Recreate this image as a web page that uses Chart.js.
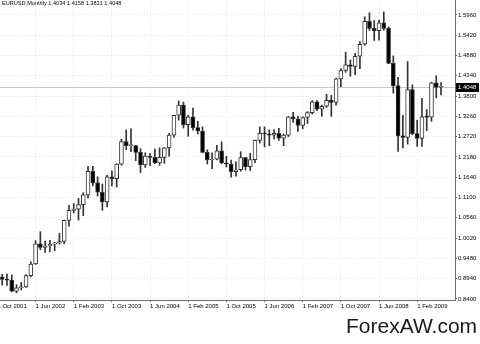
<!DOCTYPE html>
<html>
<head>
<meta charset="utf-8">
<script src="https://cdn.jsdelivr.net/npm/chart.js@4.4.0/dist/chart.umd.min.js"></script>
<style>
html,body{margin:0;padding:0;background:#fff;}
#wrap{position:relative;width:480px;height:344px;overflow:hidden;}
canvas{position:absolute;left:0;top:0;}
#hdr{position:absolute;left:2px;top:0;font:5.6px "Liberation Sans",Arial,sans-serif;line-height:7px;color:#000;white-space:nowrap;}
#wm{position:absolute;left:346px;top:313px;font:21px "Liberation Sans",Arial,sans-serif;line-height:25px;color:#1a1a1a;white-space:nowrap;}
</style>
</head>
<body>
<div id="wrap">
<canvas id="c" width="480" height="344"></canvas>
<div id="hdr">EURUSD,Monthly 1.4034 1.4158 1.3831 1.4048</div>
<div id="wm">ForexAW.com</div>
</div>
<script>
// ---- data (monthly EURUSD candles, Nov 2001 .. Jul 2009) ----
const months = [
 'Nov 2001','Dec 2001',
 'Jan 2002','Feb 2002','Mar 2002','Apr 2002','May 2002','Jun 2002','Jul 2002','Aug 2002','Sep 2002','Oct 2002','Nov 2002','Dec 2002',
 'Jan 2003','Feb 2003','Mar 2003','Apr 2003','May 2003','Jun 2003','Jul 2003','Aug 2003','Sep 2003','Oct 2003','Nov 2003','Dec 2003',
 'Jan 2004','Feb 2004','Mar 2004','Apr 2004','May 2004','Jun 2004','Jul 2004','Aug 2004','Sep 2004','Oct 2004','Nov 2004','Dec 2004',
 'Jan 2005','Feb 2005','Mar 2005','Apr 2005','May 2005','Jun 2005','Jul 2005','Aug 2005','Sep 2005','Oct 2005','Nov 2005','Dec 2005',
 'Jan 2006','Feb 2006','Mar 2006','Apr 2006','May 2006','Jun 2006','Jul 2006','Aug 2006','Sep 2006','Oct 2006','Nov 2006','Dec 2006',
 'Jan 2007','Feb 2007','Mar 2007','Apr 2007','May 2007','Jun 2007','Jul 2007','Aug 2007','Sep 2007','Oct 2007','Nov 2007','Dec 2007',
 'Jan 2008','Feb 2008','Mar 2008','Apr 2008','May 2008','Jun 2008','Jul 2008','Aug 2008','Sep 2008','Oct 2008','Nov 2008','Dec 2008',
 'Jan 2009','Feb 2009','Mar 2009','Apr 2009','May 2009','Jun 2009','Jul 2009'
];
const openP = [
 0.8985,0.8920,
 0.8900,0.8610,0.8700,0.8720,0.9020,0.9330,0.9870,0.9770,0.9810,0.9860,0.9890,0.9930,
 1.0490,1.0760,1.0790,1.0910,1.1170,1.1800,1.1490,1.1240,1.0980,1.1650,1.1600,1.1990,
 1.2590,1.2480,1.2480,1.2300,1.1970,1.2200,1.2170,1.2020,1.2170,1.2420,1.2760,1.3290,
 1.3560,1.3040,1.3250,1.2960,1.2870,1.2300,1.2100,1.2120,1.2340,1.2020,1.1990,1.1790,
 1.1840,1.2160,1.1920,1.2110,1.2620,1.2810,1.2790,1.2760,1.2810,1.2680,1.2760,1.3250,
 1.3190,1.3020,1.3230,1.3360,1.3650,1.3450,1.3530,1.3690,1.3630,1.4260,1.4480,1.4630,
 1.4590,1.4860,1.5180,1.5790,1.5600,1.5540,1.5750,1.5600,1.4670,1.4080,1.2740,1.2700,
 1.3970,1.2800,1.2670,1.3250,1.3240,1.4150,1.4034
];
const highP = [
 0.9058,0.9060,
 0.9040,0.8780,0.8840,0.9050,0.9390,0.9950,1.0190,0.9940,0.9960,0.9910,1.0150,1.0500,
 1.0890,1.0940,1.1080,1.1230,1.1930,1.1930,1.1650,1.1460,1.1690,1.1810,1.2000,1.2650,
 1.2900,1.2930,1.2490,1.2400,1.2290,1.2270,1.2390,1.2420,1.2430,1.2810,1.3290,1.3670,
 1.3640,1.3290,1.3480,1.3130,1.2980,1.2370,1.2290,1.2490,1.2580,1.2200,1.2100,1.2050,
 1.2320,1.2170,1.2280,1.2630,1.2980,1.2980,1.2900,1.2910,1.2940,1.2790,1.3260,1.3370,
 1.3270,1.3250,1.3390,1.3680,1.3680,1.3560,1.3850,1.3820,1.4280,1.4530,1.4970,1.4760,
 1.4940,1.5250,1.5910,1.6020,1.5810,1.5820,1.6040,1.5640,1.4870,1.4300,1.3290,1.4720,
 1.4100,1.3160,1.3740,1.3440,1.4170,1.4340,1.4158
];
const lowP = [
 0.8771,0.8760,
 0.8590,0.8565,0.8640,0.8710,0.8990,0.9320,0.9710,0.9640,0.9660,0.9690,0.9860,0.9870,
 1.0340,1.0690,1.0500,1.0620,1.1080,1.1410,1.1140,1.0760,1.0850,1.1410,1.1380,1.1960,
 1.2370,1.2320,1.2080,1.1760,1.1900,1.1950,1.2000,1.1960,1.2010,1.2200,1.2700,1.3160,
 1.2950,1.2730,1.2890,1.2790,1.2290,1.1990,1.1870,1.2100,1.2000,1.1910,1.1640,1.1670,
 1.1800,1.1830,1.1820,1.2030,1.2550,1.2450,1.2480,1.2660,1.2620,1.2480,1.2720,1.3100,
 1.2860,1.2930,1.3070,1.3320,1.3410,1.3260,1.3500,1.3260,1.3560,1.4050,1.4430,1.4330,
 1.4370,1.4530,1.5150,1.5550,1.5280,1.5290,1.5550,1.4660,1.3880,1.2330,1.2420,1.2520,
 1.2770,1.2460,1.2460,1.2880,1.3130,1.3750,1.3831
];
const closeP = [
 0.8920,0.8900,
 0.8610,0.8700,0.8720,0.9020,0.9330,0.9870,0.9770,0.9810,0.9860,0.9890,0.9930,1.0490,
 1.0760,1.0790,1.0910,1.1170,1.1800,1.1490,1.1240,1.0980,1.1650,1.1600,1.1990,1.2590,
 1.2480,1.2480,1.2300,1.1970,1.2200,1.2170,1.2020,1.2170,1.2420,1.2760,1.3290,1.3560,
 1.3040,1.3250,1.2960,1.2870,1.2300,1.2100,1.2120,1.2340,1.2020,1.1990,1.1790,1.1840,
 1.2160,1.1920,1.2110,1.2620,1.2810,1.2790,1.2760,1.2810,1.2680,1.2760,1.3250,1.3190,
 1.3020,1.3230,1.3360,1.3650,1.3450,1.3530,1.3690,1.3630,1.4260,1.4480,1.4630,1.4590,
 1.4860,1.5180,1.5790,1.5600,1.5540,1.5750,1.5600,1.4670,1.4080,1.2740,1.2700,1.3970,
 1.2800,1.2670,1.3250,1.3240,1.4150,1.4030,1.4048
];
// time-axis labels (bar index relative to Nov 2001 = 0)
const xTickLabels = ['1 Oct 2001','1 Jun 2002','1 Feb 2003','1 Oct 2003','1 Jun 2004','1 Feb 2005',
                     '1 Oct 2005','1 Jun 2006','1 Feb 2007','1 Oct 2007','1 Jun 2008','1 Feb 2009'];
const xTickIndex  = [-1,7,15,23,31,39,47,55,63,71,79,87];
// price-axis labels
const yTicks = [0.8400,0.8940,0.9480,1.0020,1.0560,1.1100,1.1640,1.2180,1.2720,1.3260,1.3800,1.4340,1.4880,1.5420,1.5960];
const lastPrice = 1.4048;

// ---- chart ----
const wickData = months.map((m,i)=>({x:i, y:[lowP[i], highP[i]]}));
const bodyData = months.map((m,i)=>({x:i, y:[Math.min(openP[i],closeP[i]), Math.max(openP[i],closeP[i])]}));
const bodyFill = months.map((m,i)=> closeP[i] >= openP[i] ? '#ffffff' : '#000000');

const bidPlugin = {
  id:'bid',
  beforeDatasetsDraw(chart){
    const {ctx, chartArea:a, scales:{y}} = chart;
    const py = Math.round(y.getPixelForValue(lastPrice)) + 0.5;
    ctx.save();
    ctx.strokeStyle = '#c8c8c8'; ctx.lineWidth = 1;
    ctx.beginPath(); ctx.moveTo(a.left, py); ctx.lineTo(a.right, py); ctx.stroke();
    ctx.restore();
  },
  afterDraw(chart){
    const {ctx, chartArea:a, scales:{y}} = chart;
    const py = Math.round(y.getPixelForValue(lastPrice));
    ctx.save();
    ctx.fillStyle = '#000';
    ctx.fillRect(a.right + 1, py - 4, 23, 9);
    ctx.fillStyle = '#fff';
    ctx.font = '6px "Liberation Sans", Arial, sans-serif';
    ctx.textBaseline = 'middle';
    ctx.fillText(lastPrice.toFixed(4), a.right + 3, py + 0.5);
    ctx.restore();
  }
};

new Chart(document.getElementById('c'), {
  type:'bar',
  data:{
    datasets:[
      { label:'body', data: bodyData, backgroundColor: bodyFill, borderColor:'#333333',
        borderWidth:1, borderSkipped:false, barThickness:4, minBarLength:1, grouped:false },
      { label:'wick', data: wickData, backgroundColor:'#333333', borderWidth:0,
        barThickness:1, grouped:false }
    ]
  },
  options:{
    responsive:false, animation:false,
    layout:{padding:0},
    plugins:{legend:{display:false}, tooltip:{enabled:false}},
    scales:{
      x:{
        type:'linear', min:-0.46, max:94.93, offset:false,
        afterFit(s){ s.height = 44; s.paddingLeft = 0; s.paddingRight = 0; },
        afterBuildTicks(s){ s.ticks = xTickIndex.map(v=>({value:v})); },
        grid:{ offset:false, color:'#e6e6e6', drawTicks:true, tickLength:2, tickColor:'#666' },
        border:{ display:true, color:'#707070', width:1, dash:[1,2] },
        ticks:{ autoSkip:false, maxRotation:0, minRotation:0, align:'start', padding:1,
          color:'#000', font:{family:'"Liberation Sans", Arial, sans-serif', size:6},
          callback(v){ const k = xTickIndex.indexOf(v); return k >= 0 ? xTickLabels[k] : ''; } }
      },
      y:{
        type:'linear', position:'right', min:0.8373, max:1.6357,
        afterFit(s){ s.width = 25; s.paddingTop = 0; s.paddingBottom = 0; },
        afterBuildTicks(s){ s.ticks = yTicks.map(v=>({value:v})); },
        grid:{ color:'#e6e6e6', drawTicks:true, tickLength:2, tickColor:'#666' },
        border:{ display:true, color:'#707070', width:1, dash:[1,2] },
        ticks:{ padding:1, color:'#000', font:{family:'"Liberation Sans", Arial, sans-serif', size:6},
          callback(v){ return Number(v).toFixed(4); } }
      }
    }
  },
  plugins:[bidPlugin]
});
</script>
</body>
</html>
